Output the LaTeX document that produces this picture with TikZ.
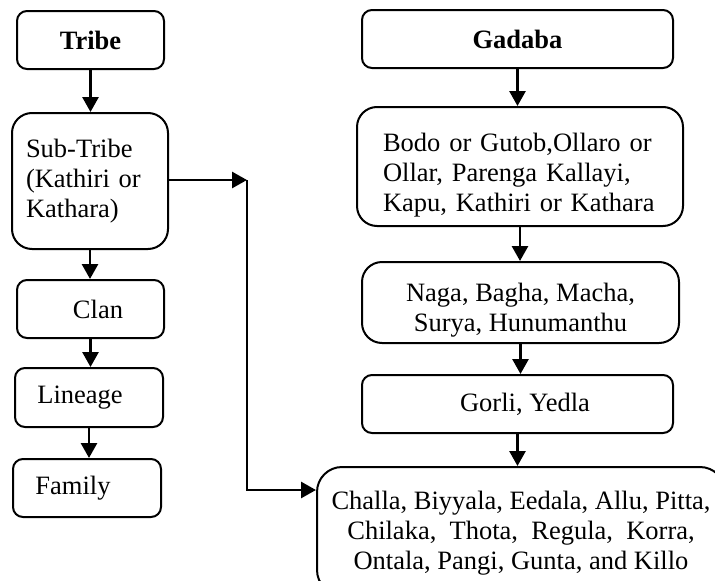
\documentclass[tikz,border=0pt]{standalone}
\usepackage{fontspec}
\setmainfont{Liberation Serif}
\usepackage{tikz}
\usetikzlibrary{arrows.meta,positioning}

\begin{document}
\begin{tikzpicture}[
  box/.style={draw,line width=2bp,rounded corners=10bp,inner sep=0pt,align=center},
  bigbox/.style={box,rounded corners=20bp},
  arr/.style={-{Triangle[length=15bp,width=16bp]},line width=2.8bp},
  font=\fontsize{26.5bp}{30bp}\selectfont]

\useasboundingbox (0bp,0bp) rectangle (715bp,-581bp);
\clip (0bp,0bp) rectangle (715bp,-581bp);

% left column
\node (Tribe) at (90.5bp,-40bp)[box,minimum width=147bp,minimum height=58bp] {\textbf{Tribe}};
\node (SubTribe) at (90bp,-181bp)[bigbox,text width=128bp,inner xsep=14bp,minimum height=136bp,align=left] {Sub-Tribe\\(Kathiri or\\Kathara)};
\node (Clan) at (90.5bp,-309bp)[box,minimum width=147bp,minimum height=58bp] {\hspace*{15bp}Clan};
\node (Lineage) at (89bp,-397.5bp)[box,minimum width=148bp,minimum height=59bp] {Lineage\hspace*{18bp}};
\node (Family) at (87bp,-488bp)[box,minimum width=148bp,minimum height=58bp] {Family\hspace*{28bp}};

% right column
\node (Gadaba) at (517.5bp,-39bp)[box,minimum width=311bp,minimum height=58bp] {\textbf{Gadaba}};
\node (Bodo) at (520bp,-166.5bp)[bigbox,text width=274bp,inner xsep=26bp,minimum height=119bp,align=left] {\rule{0pt}{36bp}Bodo or Gutob,Ollaro or\\Ollar, Parenga Kallayi,\\Kapu, Kathiri or Kathara};
\node (Naga) at (520.5bp,-302.5bp)[bigbox,minimum width=317bp,minimum height=81bp] {\rule{0pt}{34bp}Naga, Bagha, Macha,\\Surya, Hunumanthu};
\node (Gorli) at (517.5bp,-404bp)[box,minimum width=311bp,minimum height=58bp] {\hspace*{15bp}Gorli, Yedla};
\node (Challa) at (521bp,-531bp)[bigbox,rounded corners=25bp,minimum width=408bp,minimum height=128bp] {\rule{0pt}{23bp}Challa, Biyyala, Eedala, Allu, Pitta,\\Chilaka,\ \ Thota,\ \ Regula,\ \ Korra,\\Ontala, Pangi, Gunta, and Killo};

\coordinate (Turn) at (247bp,-180bp);
\coordinate (ChallaIn) at ([yshift=41bp]Challa.west);

\draw [arr] (Tribe) -- (Tribe |- SubTribe.north);
\draw [arr] (SubTribe) -- (SubTribe |- Clan.north);
\draw [arr] (Clan) -- (Clan |- Lineage.north);
\draw [arr] (Lineage) -- (Lineage |- Family.north);

\draw [arr] (Gadaba) -- (Gadaba |- Bodo.north);
\draw [arr] (Bodo) -- (Bodo |- Naga.north);
\draw [arr] (Naga) -- (Naga |- Gorli.north);
\draw [arr] (Gorli) -- (Gorli |- Challa.north);

\draw [arr] (SubTribe.east |- Turn) -- (Turn);
\draw [arr] (Turn) |- (ChallaIn);
\end{tikzpicture}
\end{document}
